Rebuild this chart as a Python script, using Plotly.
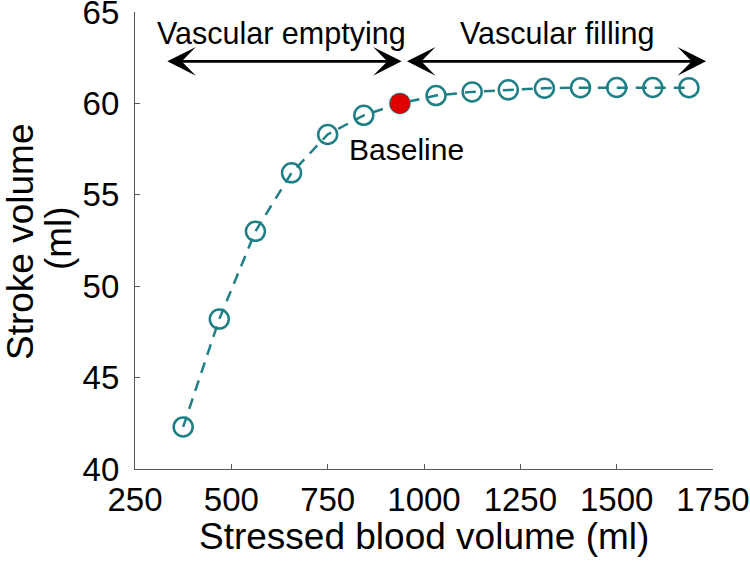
import plotly.graph_objects as go

# Data
stressed_volume = [375, 468.75, 562.5, 656.25, 750, 843.75, 937.5, 1031.25,
                   1125, 1218.75, 1312.5, 1406.25, 1500, 1593.75, 1687.5]
stroke_volume = [42.3, 48.2, 53.0, 56.2, 58.3, 59.35, 60.0, 60.43,
                 60.63, 60.74, 60.83, 60.86, 60.87, 60.87, 60.86]
baseline_x = [937.5]
baseline_y = [60.0]
x_ticks = [250, 500, 750, 1000, 1250, 1500, 1750]
y_ticks = [40, 45, 50, 55, 60, 65]

TEAL = "#1f7f86"
FONT = "Liberation Sans, Arial, sans-serif"

fig = go.Figure()
fig.add_trace(go.Scatter(
    x=stressed_volume, y=stroke_volume, mode="lines+markers",
    line=dict(color=TEAL, width=2.5, dash="11px,8px"),
    marker=dict(symbol="circle-open", size=19, color=TEAL, line=dict(width=2.5)),
    showlegend=False, hoverinfo="skip"))
fig.add_trace(go.Scatter(
    x=baseline_x, y=baseline_y, mode="markers",
    marker=dict(symbol="circle", size=20, color="#e00000", line=dict(width=0)),
    showlegend=False, hoverinfo="skip"))

arrow_y = 62.3
arrows = [(330, 942), (952, 1732)]
for x0, x1 in arrows:
    fig.add_annotation(x=x1, y=arrow_y, ax=x0, ay=arrow_y, xref="x", yref="y",
                       axref="x", ayref="y", text="", showarrow=True,
                       arrowhead=3, startarrowhead=3, arrowside="end+start",
                       arrowwidth=2.8, arrowsize=1.7, startarrowsize=1.7,
                       arrowcolor="black")

fig.add_annotation(x=631, y=63.8, xref="x", yref="y", text="Vascular emptying",
                   showarrow=False, font=dict(family=FONT, size=30.5, color="black"),
                   xanchor="center", yanchor="middle")
fig.add_annotation(x=1345, y=63.8, xref="x", yref="y", text="Vascular filling",
                   showarrow=False, font=dict(family=FONT, size=30.5, color="black"),
                   xanchor="center", yanchor="middle")
fig.add_annotation(x=954, y=57.47, xref="x", yref="y", text="Baseline",
                   showarrow=False, font=dict(family=FONT, size=30, color="black"),
                   xanchor="center", yanchor="middle")

# Axis titles as annotations for precise placement
fig.add_annotation(x=-0.197, y=0.497, xref="paper", yref="paper", text="Stroke volume",
                   textangle=-90, showarrow=False,
                   font=dict(family=FONT, size=37, color="black"),
                   xanchor="center", yanchor="middle")
fig.add_annotation(x=-0.1335, y=0.505, xref="paper", yref="paper", text="(ml)",
                   textangle=-90, showarrow=False,
                   font=dict(family=FONT, size=37, color="black"),
                   xanchor="center", yanchor="middle")
fig.add_annotation(x=0.5, y=-0.148, xref="paper", yref="paper",
                   text="Stressed blood volume (ml)", showarrow=False,
                   font=dict(family=FONT, size=37, color="black"),
                   xanchor="center", yanchor="middle")

axis_common = dict(ticks="inside", ticklen=5, tickcolor="#555", showline=True,
                   linecolor="#555", linewidth=1.2, showgrid=False, zeroline=False,
                   tickfont=dict(size=33), automargin=False,
                   ticklabeloverflow="allow")

fig.update_layout(
    width=750, height=566,
    margin=dict(l=135, r=37, t=12, b=97),
    paper_bgcolor="white", plot_bgcolor="white",
    font=dict(family=FONT, color="black"),
    xaxis=dict(range=[250, 1750], tickvals=x_ticks, ticklabelstandoff=1, **axis_common),
    yaxis=dict(range=[40, 65], tickvals=y_ticks, ticklabelstandoff=8, **axis_common),
)

fig.write_html("out.html", config={"displayModeBar": False},
               post_script="document.body.style.margin='0';document.body.style.overflow='hidden';")
